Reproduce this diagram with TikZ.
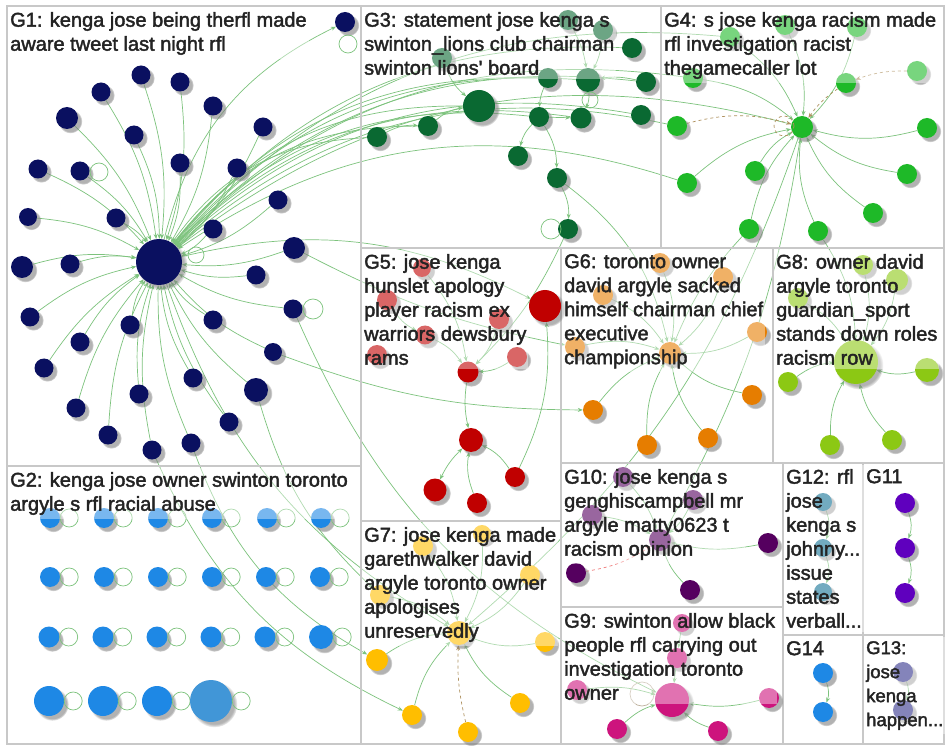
\documentclass[tikz,border=0pt]{standalone}
\usepackage{fontspec}
\usetikzlibrary{arrows.meta,shadows,backgrounds}
\newfontfamily\grpfont[FakeBold=2]{Liberation Sans}
\definecolor{boxgray}{RGB}{200,200,200}
\definecolor{edgegreen}{RGB}{125,195,125}
\definecolor{dashbrown}{RGB}{175,145,95}
\definecolor{dashred}{RGB}{240,120,120}
\definecolor{labtext}{RGB}{35,35,35}
\definecolor{cNavy}{RGB}{10,16,96}
\definecolor{cBlue}{RGB}{30,136,229}
\definecolor{cBlueL}{RGB}{65,150,215}
\definecolor{cDGreen}{RGB}{10,105,50}
\definecolor{cGreen}{RGB}{30,185,40}
\definecolor{cRed}{RGB}{192,0,0}
\definecolor{cOrange}{RGB}{230,125,0}
\definecolor{cYellow}{RGB}{255,190,0}
\definecolor{cLime}{RGB}{140,200,20}
\definecolor{cMagenta}{RGB}{205,20,125}
\definecolor{cPlum}{RGB}{85,0,95}
\definecolor{cViolet}{RGB}{95,0,190}
\definecolor{cTeal}{RGB}{20,115,150}
\definecolor{cSlate}{RGB}{50,50,140}
\tikzset{
  grpbox/.style={draw=boxgray, line width=1.2pt},
  vtx/.style={circle, inner sep=0pt, minimum size=#1pt,
    circular drop shadow={shadow xshift=3pt, shadow yshift=-3pt, opacity=0.6}},
  lnk/.style={draw=edgegreen, line width=0.7pt, -{Stealth[length=5pt,width=4pt]}},
  lnkdash/.style={lnk, draw=dashbrown, dashed},
  selfloop/.style={draw=edgegreen, line width=0.7pt},
  grplabel/.style={anchor=north west, align=left, inner xsep=2pt, inner ysep=4pt,
    fill=white, fill opacity=0.4, text opacity=1, text=labtext,
    font=\grpfont\fontsize{20}{24}\selectfont},
}
\begin{document}
\begin{tikzpicture}[x=1pt, y=-1pt]
  \useasboundingbox (0,0) rectangle (946,746);
  \begin{pgfonlayer}{background}
    \fill[white] (0,0) rectangle (946,746);
  \end{pgfonlayer}

  % group boxes
  \draw[grpbox] (7,6) rectangle (361,466);
  \draw[grpbox] (7,466) rectangle (361,744);
  \draw[grpbox] (361,6) rectangle (661,248);
  \draw[grpbox] (661,6) rectangle (944,248);
  \draw[grpbox] (361,248) rectangle (561,521);
  \draw[grpbox] (361,521) rectangle (561,744);
  \draw[grpbox] (561,248) rectangle (773,463);
  \draw[grpbox] (773,248) rectangle (944,463);
  \draw[grpbox] (561,463) rectangle (783,607);
  \draw[grpbox] (561,607) rectangle (783,744);
  \draw[grpbox] (783,463) rectangle (863,635);
  \draw[grpbox] (863,463) rectangle (944,635);
  \draw[grpbox] (783,635) rectangle (863,744);
  \draw[grpbox] (863,635) rectangle (944,744);

  % G1
  \node[vtx=46, fill=cNavy] (g1h) at (159,262) {};
  \foreach \x/\y/\d [count=\i] in {345/22/20, 141/75/19, 180/82/19, 101/92/19,
      213/106/19, 67/118/22, 263/127/19, 134/135/19, 180/163/19, 38/169/19,
      80/171/19, 237/168/19, 278/200/19, 28/217/18, 116/218/19, 213/229/19,
      294/248/22, 22/267/22, 70/264/19, 256/275/19, 293/309/19, 30/317/19,
      130/325/19, 213/320/19, 80/342/19, 44/368/19, 273/352/18, 193/378/19,
      139/394/19, 256/390/24, 76/408/19, 229/422/19, 108/435/19, 152/450/19,
      191/443/19}
    \node[vtx=\d, fill=cNavy] (g1n\i) at (\x,\y) {};
  \draw[selfloop] (348,44) circle (9pt);
  \draw[selfloop] (99,172) circle (9pt);
  \draw[selfloop] (313,309) circle (10pt);
  \draw[selfloop] (196,255) circle (8pt);

  % G2
  \foreach \x/\y/\d [count=\i] in {50/518/20, 104/518/20, 158/518/20, 212/518/20,
      267/518/20, 321/518/20, 50/577/20, 104/577/20, 158/577/20, 212/577/20,
      266/577/20, 320/577/20, 49/637/21, 103/637/21, 157/637/21, 211/637/21,
      265/637/21, 321/637/24, 49/701/30, 103/701/30, 157/701/30}
  {
    \node[vtx=\d, fill=cBlue] (g2n\i) at (\x,\y) {};
    \draw[selfloop] (g2n\i.east) ++(9,0) circle (9pt);
  }
  \node[vtx=42, fill=cBlueL] (g2n22) at (211,701) {};
  \draw[selfloop] (g2n22.east) ++(9,0) circle (9pt);

  % G3
  \node[vtx=32, fill=cDGreen] (g3h) at (479,106) {};
  \foreach \x/\y/\d [count=\i] in {428/126/20, 377/137/20, 539/117/20, 581/118/21,
      641/115/20, 646/82/20, 632/48/20, 588/80/24, 548/78/20, 442/58/20,
      568/20/20, 603/30/20, 518/156/20, 557/178/20, 568/229/20}
    \node[vtx=\d, fill=cDGreen] (g3n\i) at (\x,\y) {};
  \draw[selfloop] (551,229) circle (10pt);
  \draw[selfloop] (590,100) circle (8pt);

  % G4
  \node[vtx=22, fill=cGreen] (g4h) at (802,127) {};
  \foreach \x/\y [count=\i] in {677/126, 927/128, 755/171, 687/183, 907/174,
      873/213, 749/229, 818/231, 846/83, 917/71, 730/37, 785/25, 857/27, 693/78}
    \node[vtx=20, fill=cGreen] (g4n\i) at (\x,\y) {};
  \draw[selfloop, draw=dashbrown, dashed] (784,126) circle (10pt);

  % G5
  \foreach \x/\y/\d [count=\i] in {545/306/32, 468/372/21, 471/440/24, 515/477/20,
      435/490/23, 477/503/20, 422/268/18, 387/300/20, 499/319/20, 425/335/19,
      377/355/20, 517/357/20}
    \node[vtx=\d, fill=cRed] (g5n\i) at (\x,\y) {};

  % G6
  \node[vtx=22, fill=cOrange] (g6h) at (670,353) {};
  \foreach \x/\y [count=\i] in {660/263, 603/295, 723/277, 757/332, 575/347,
      593/410, 752/395, 647/445, 708/438}
    \node[vtx=20, fill=cOrange] (g6n\i) at (\x,\y) {};

  % G8
  \node[vtx=44, fill=cLime] (g8h) at (856,362) {};
  \foreach \x/\y/\d [count=\i] in {863/265/20, 897/280/22, 798/298/20, 927/370/24,
      788/382/20, 830/445/20, 892/440/20}
    \node[vtx=\d, fill=cLime] (g8n\i) at (\x,\y) {};

  % G7
  \node[vtx=24, fill=cYellow] (g7h) at (459,633) {};
  \foreach \x/\y/\d [count=\i] in {482/534/18, 423/546/20, 530/575/20, 380/595/20,
      545/642/20, 377/660/22, 412/715/20, 468/732/20, 520/703/20}
    \node[vtx=\d, fill=cYellow] (g7n\i) at (\x,\y) {};

  % G10
  \node[vtx=22, fill=cPlum] (g10h) at (660,540) {};
  \foreach \x/\y [count=\i] in {623/477, 592/515, 693/500, 768/543, 576/573, 690/590}
    \node[vtx=20, fill=cPlum] (g10n\i) at (\x,\y) {};

  % G9
  \node[vtx=34, fill=cMagenta] (g9h) at (672,700) {};
  \foreach \x/\y/\d [count=\i] in {682/623/18, 677/658/20, 577/690/20, 769/698/20,
      617/729/20, 718/731/20}
    \node[vtx=\d, fill=cMagenta] (g9n\i) at (\x,\y) {};
  \draw[selfloop, draw=boxgray!60!dashbrown] (642,694) circle (12pt);

  % G11 - G14
  \foreach \y [count=\i] in {502,548,592}
    \node[vtx=18, fill=cTeal] (g12n\i) at (823,\y) {};
  \foreach \y [count=\i] in {503,548,593}
    \node[vtx=20, fill=cViolet] (g11n\i) at (905,\y) {};
  \foreach \y [count=\i] in {673,712}
    \node[vtx=20, fill=cBlue] (g14n\i) at (823,\y) {};
  \foreach \y [count=\i] in {672,710}
    \node[vtx=20, fill=cSlate] (g13n\i) at (903,\y) {};

  % edges
  \begin{pgfonlayer}{background}
    \foreach \i in {2,...,35}
      \draw[lnk] (g1n\i) to[bend left=12] (g1h);
    \draw[lnk] (g1h) to[bend left=25] (g1n1);
    \foreach \n in {g3n1,g3n2,g3h,g3n3,g3n4,g3n5,g3n6,g3n7,g3n8,g3n9,
        g4n1,g4n14,g4n4,g4n11,g4h}
      \draw[lnk] (\n) to[bend right=26] (g1h);
    \draw[lnk] (g1h) to[bend left=20] (g5n1);
    \draw[lnk] (g1h) to[bend right=20] (g7h);
    \draw[lnk] (g1n30) to[bend right=15] (g7n4);
    \draw[lnk] (g1n35) to[bend right=20] (g7n6);
    \draw[lnk] (g1n34) to[bend right=20] (g7n7);
    \draw[lnk] (g1n21) to[bend right=20] (g9h);
    \draw[lnk] (g1n27) to[bend right=10] (g6n6);
    \draw[lnk] (g1n17) to[bend right=8] (g6n5);
    \draw[lnk] (g4h) to[bend left=10] (g10h);
    \draw[lnk] (g4h) to[bend left=15] (g7h);
    \draw[lnk] (g4n8) to[bend left=15] (g8h);
    \draw[lnk] (g3n15) to[bend left=10] (g5n2);
    \draw[lnk] (g3n14) to[bend left=20] (g6h);
    \draw[lnk] (g4n7) to[bend right=10] (g6h);
    % G3 inside
    \draw[lnk] (g3n2) to[bend left=15] (g3n1);
    \draw[lnk] (g3n1) to[bend left=15] (g3h);
    \draw[lnk] (g3n10) to[bend right=15] (g3h);
    \draw[lnk] (g3n3) to[bend right=15] (g3n13);
    \draw[lnk] (g3n3) to[bend left=15] (g3n14);
    \draw[lnk] (g3n14) to[bend left=15] (g3n15);
    \draw[lnk] (g3n3) to (g3n4);
    \draw[lnk] (g3n8) to[bend left=15] (g3n4);
    \draw[lnk] (g3n9) to[bend right=10] (g3n3);
    \draw[lnk] (g3n11) to[bend left=10] (g3n8);
    \draw[lnk] (g3n12) to[bend left=10] (g3n8);
    \draw[lnk] (g3n6) to[bend right=10] (g3n8);
    % G4 inside
    \foreach \i in {2,...,8,11,12,13,14}
      \draw[lnk] (g4n\i) to[bend left=15] (g4h);
    \draw[lnkdash] (g4n1) to[bend left=15] (g4h);
    \draw[lnkdash] (g4n9) to[bend right=10] (g4h);
    \draw[lnkdash] (g4n10) to[bend right=10] (g4n9);
    % G5 inside
    \foreach \i in {7,9,10,12}
      \draw[lnk] (g5n\i) to[bend left=15] (g5n2);
    \draw[lnk] (g5n8) to[bend right=15] (g5n10);
    \draw[lnk] (g5n2) to[bend right=10] (g5n3);
    \draw[lnk] (g5n6) to[bend left=15] (g5n3);
    \draw[lnk, {Stealth[length=5pt,width=4pt]}-{Stealth[length=5pt,width=4pt]}] (g5n3) to[bend right=10] (g5n5);
    \draw[lnk] (g5n4) to[bend right=15] (g5n3);
    \draw[lnk] (g5n4) to[bend right=15] (g5n1);
    % G6, G8, G7 inside
    \foreach \i in {1,...,9}
      \draw[lnk] (g6n\i) to[bend left=15] (g6h);
    \foreach \i in {1,...,7}
      \draw[lnk] (g8n\i) to[bend left=15] (g8h);
    \foreach \i in {1,...,7,9}
      \draw[lnk] (g7n\i) to[bend left=15] (g7h);
    \draw[lnkdash] (g7n8) to[bend left=8] (g7h);
    % G10, G9 inside
    \foreach \i in {1,2,3,4,6}
      \draw[lnk] (g10n\i) to[bend left=12] (g10h);
    \draw[lnk, draw=dashred, dashed] (g10n5) to[bend right=12] (g10h);
    \foreach \i in {3,4,5,6}
      \draw[lnk] (g9n\i) to[bend left=12] (g9h);
    \draw[lnk] (g9n1) to (g9n2);
    \draw[lnk] (g9n2) to (g9h);
    % small groups
    \draw[lnk] (g11n1) to[bend left=20] (g11n2);
    \draw[lnk] (g11n2) to[bend left=20] (g11n3);
    \draw[lnk] (g12n1) to[bend left=20] (g12n2);
    \draw[lnk] (g12n2) to[bend left=20] (g12n3);
    \draw[lnk] (g14n1) to[bend left=20] (g14n2);
    \draw[lnk] (g13n1) to[bend left=20] (g13n2);
  \end{pgfonlayer}

  % group labels
  \node[grplabel] (lab1) at (8,8) {G1: kenga jose being therfl made\\aware tweet last night rfl};
  \node[grplabel] (lab2) at (8,468) {G2: kenga jose owner swinton toronto\\argyle s rfl racial abuse};
  \node[grplabel] (lab3) at (362,8) {G3: statement jose kenga s\\swinton\_lions club chairman\\swinton lions' board};
  \node[grplabel] (lab4) at (662,8) {G4: s jose kenga racism made\\rfl investigation racist\\thegamecaller lot};
  \node[grplabel] (lab5) at (362,250) {G5: jose kenga\\hunslet apology\\player racism ex\\warriors dewsbury\\rams};
  \node[grplabel] (lab6) at (562,250) {G6: toronto owner\\david argyle sacked\\himself chairman chief\\executive\\championship};
  \node[grplabel] (lab8) at (774,250) {G8: owner david\\argyle toronto\\guardian\_sport\\stands down roles\\racism row};
  \node[grplabel] (lab7) at (362,523) {G7: jose kenga made\\garethwalker david\\argyle toronto owner\\apologises\\unreservedly};
  \node[grplabel] (lab10) at (562,465) {G10: jose kenga s\\genghiscampbell mr\\argyle matty0623 t\\racism opinion};
  \node[grplabel] (lab9) at (562,609) {G9: swinton allow black\\people rfl carrying out\\investigation toronto\\owner};
  \node[grplabel] (lab12) at (784,465) {G12: rfl\\jose\\kenga s\\johnny...\\issue\\states\\verball...};
  \node[grplabel] (lab11) at (864,465) {G11};
  \node[grplabel] (lab14) at (784,637) {G14};
  \node[grplabel, font=\grpfont\fontsize{18.5}{24}\selectfont] (lab13) at (864,637) {G13:\\jose\\kenga\\happen...};
\end{tikzpicture}
\end{document}
